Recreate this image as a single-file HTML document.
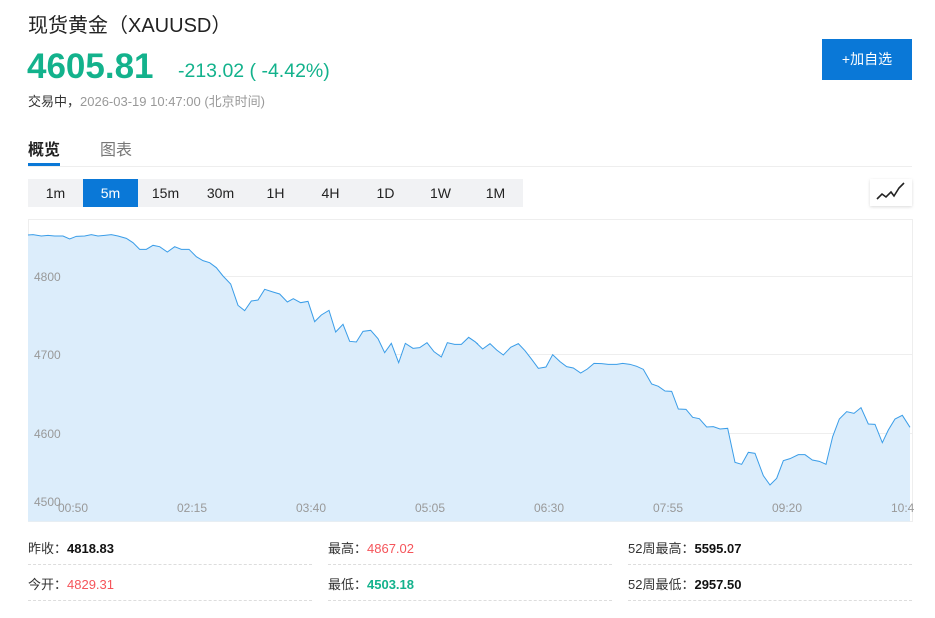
<!DOCTYPE html>
<html><head><meta charset="utf-8"><style>
body{margin:0;width:935px;height:618px;background:#fff;font-family:"Liberation Sans","Noto Sans CJK SC",sans-serif;position:relative;overflow:hidden}
.a{position:absolute;white-space:nowrap}
.btn{position:absolute;top:179px;height:28px;width:55px;line-height:28px;text-align:center;font-size:14px;color:#222;background:#f1f2f4}
.lbl{font-size:13px;color:#333}
.row{position:absolute;height:0;border-bottom:1px dashed #ddd}
</style></head><body>
<div class="a" style="left:28px;top:9px;font-size:20px;color:#222">现货黄金（XAUUSD）</div>
<div class="a" style="left:27px;top:47px;font-size:35px;font-weight:bold;color:#13b28c">4605.81</div>
<div class="a" style="left:178px;top:60px;font-size:19.5px;color:#13b28c">-213.02 ( -4.42%)</div>
<div class="a" style="left:28px;top:91px;font-size:13px;color:#333">交易中，<span style="color:#999">2026-03-19 10:47:00 (北京时间)</span></div>
<div class="a" style="left:822px;top:39px;width:90px;height:41px;background:#0a78d7;color:#fff;font-size:14px;line-height:41px;text-align:center">+加自选</div>
<div class="a" style="left:28px;top:136px;font-size:16px;color:#222;font-weight:bold">概览</div>
<div class="a" style="left:100px;top:136px;font-size:16px;color:#777">图表</div>
<div class="a" style="left:28px;top:163px;width:32px;height:3px;background:#0a78d7"></div>
<div class="a" style="left:28px;top:166px;width:884px;height:1px;background:#eee"></div>
<div class="btn" style="left:28px">1m</div>
<div class="btn" style="left:83px;background:#0a78d7;color:#fff">5m</div>
<div class="btn" style="left:138px">15m</div>
<div class="btn" style="left:193px">30m</div>
<div class="btn" style="left:248px">1H</div>
<div class="btn" style="left:303px">4H</div>
<div class="btn" style="left:358px">1D</div>
<div class="btn" style="left:413px">1W</div>
<div class="btn" style="left:468px">1M</div>
<div class="a" style="left:870px;top:179px;width:42px;height:27px;background:#fff;box-shadow:0 1px 3px rgba(0,0,0,.15)">
<svg width="42" height="27"><polyline points="7,20 12,15 16,18 21,13 24,17 29,9 34,4" fill="none" stroke="#222" stroke-width="1.6"/></svg></div>
<svg class="a" style="left:0;top:0" width="935" height="618">
<rect x="28.5" y="219.5" width="884" height="302" fill="none" stroke="#eee"/>
<line x1="28" y1="276.5" x2="912" y2="276.5" stroke="#eee"/>
<line x1="28" y1="354.5" x2="912" y2="354.5" stroke="#eee"/>
<line x1="28" y1="433.5" x2="912" y2="433.5" stroke="#eee"/>
<g transform="translate(28,220) scale(0.33333)">
<polygon fill="#dcedfb" points="0,904 0,45 15,44 40,48 60,46 80,48 105,48 125,57 145,49 170,48 190,44 210,48 230,46 250,44 270,48 295,55 315,68 335,88 355,88 375,76 395,80 418,96 440,80 460,88 483,88 505,110 525,122 545,128 565,143 585,168 608,192 630,256 650,272 670,243 690,240 710,208 735,216 755,222 778,246 796,236 818,248 840,244 860,305 880,285 903,271 923,336 945,313 965,364 985,366 1005,334 1028,331 1050,356 1070,398 1090,370 1112,428 1132,370 1155,385 1175,383 1197,368 1218,395 1240,411 1258,368 1280,373 1300,373 1322,352 1350,372 1350,904"/>
<polyline fill="none" stroke="#3a9de8" stroke-width="1" vector-effect="non-scaling-stroke" points="0,45 15,44 40,48 60,46 80,48 105,48 125,57 145,49 170,48 190,44 210,48 230,46 250,44 270,48 295,55 315,68 335,88 355,88 375,76 395,80 418,96 440,80 460,88 483,88 505,110 525,122 545,128 565,143 585,168 608,192 630,256 650,272 670,243 690,240 710,208 735,216 755,222 778,246 796,236 818,248 840,244 860,305 880,285 903,271 923,336 945,313 965,364 985,366 1005,334 1028,331 1050,356 1070,398 1090,370 1112,428 1132,370 1155,385 1175,383 1197,368 1218,395 1240,411 1258,368 1280,373 1300,373 1322,352 1350,372"/>
</g>
<g transform="translate(470,220) scale(0.33333)">
<polygon fill="#dcedfb" points="0,904 0,355 15,365 38,387 60,371 80,390 100,405 122,382 145,371 165,392 185,418 205,445 228,441 248,404 270,425 290,440 310,444 332,459 352,447 372,430 395,431 415,433 440,433 458,430 480,433 500,439 520,448 545,492 565,499 585,513 605,514 625,567 648,568 668,592 688,596 710,621 730,620 750,627 773,625 795,727 815,733 835,697 855,700 880,767 900,795 920,775 940,722 960,716 985,704 1005,704 1027,720 1048,724 1068,733 1088,650 1108,597 1130,575 1152,580 1173,563 1195,612 1215,613 1237,668 1255,630 1275,597 1297,586 1320,622 1320,904"/>
<polyline fill="none" stroke="#3a9de8" stroke-width="1" vector-effect="non-scaling-stroke" points="0,355 15,365 38,387 60,371 80,390 100,405 122,382 145,371 165,392 185,418 205,445 228,441 248,404 270,425 290,440 310,444 332,459 352,447 372,430 395,431 415,433 440,433 458,430 480,433 500,439 520,448 545,492 565,499 585,513 605,514 625,567 648,568 668,592 688,596 710,621 730,620 750,627 773,625 795,727 815,733 835,697 855,700 880,767 900,795 920,775 940,722 960,716 985,704 1005,704 1027,720 1048,724 1068,733 1088,650 1108,597 1130,575 1152,580 1173,563 1195,612 1215,613 1237,668 1255,630 1275,597 1297,586 1320,622"/>
</g>
<g font-family="Liberation Sans, sans-serif" font-size="12" fill="#999">
<text x="34" y="281">4800</text><text x="34" y="359">4700</text><text x="34" y="438">4600</text><text x="34" y="506">4500</text>
<text x="58" y="512">00:50</text><text x="177" y="512">02:15</text><text x="296" y="512">03:40</text><text x="415" y="512">05:05</text><text x="534" y="512">06:30</text><text x="653" y="512">07:55</text><text x="772" y="512">09:20</text><text x="891" y="512">10:4</text>
</g>
</svg>
<div class="a lbl" style="left:28px;top:538px">昨收：<b style="color:#111">4818.83</b></div>
<div class="a lbl" style="left:328px;top:538px">最高：<b style="color:#f5545a;font-weight:normal">4867.02</b></div>
<div class="a lbl" style="left:628px;top:538px">52周最高：<b style="color:#111">5595.07</b></div>
<div class="a lbl" style="left:28px;top:574px">今开：<b style="color:#f5545a;font-weight:normal">4829.31</b></div>
<div class="a lbl" style="left:328px;top:574px">最低：<b style="color:#13b28c">4503.18</b></div>
<div class="a lbl" style="left:628px;top:574px">52周最低：<b style="color:#111">2957.50</b></div>
<div class="row" style="left:28px;top:564px;width:284px"></div>
<div class="row" style="left:328px;top:564px;width:284px"></div>
<div class="row" style="left:628px;top:564px;width:284px"></div>
<div class="row" style="left:28px;top:600px;width:284px"></div>
<div class="row" style="left:328px;top:600px;width:284px"></div>
<div class="row" style="left:628px;top:600px;width:284px"></div>
</body></html>
